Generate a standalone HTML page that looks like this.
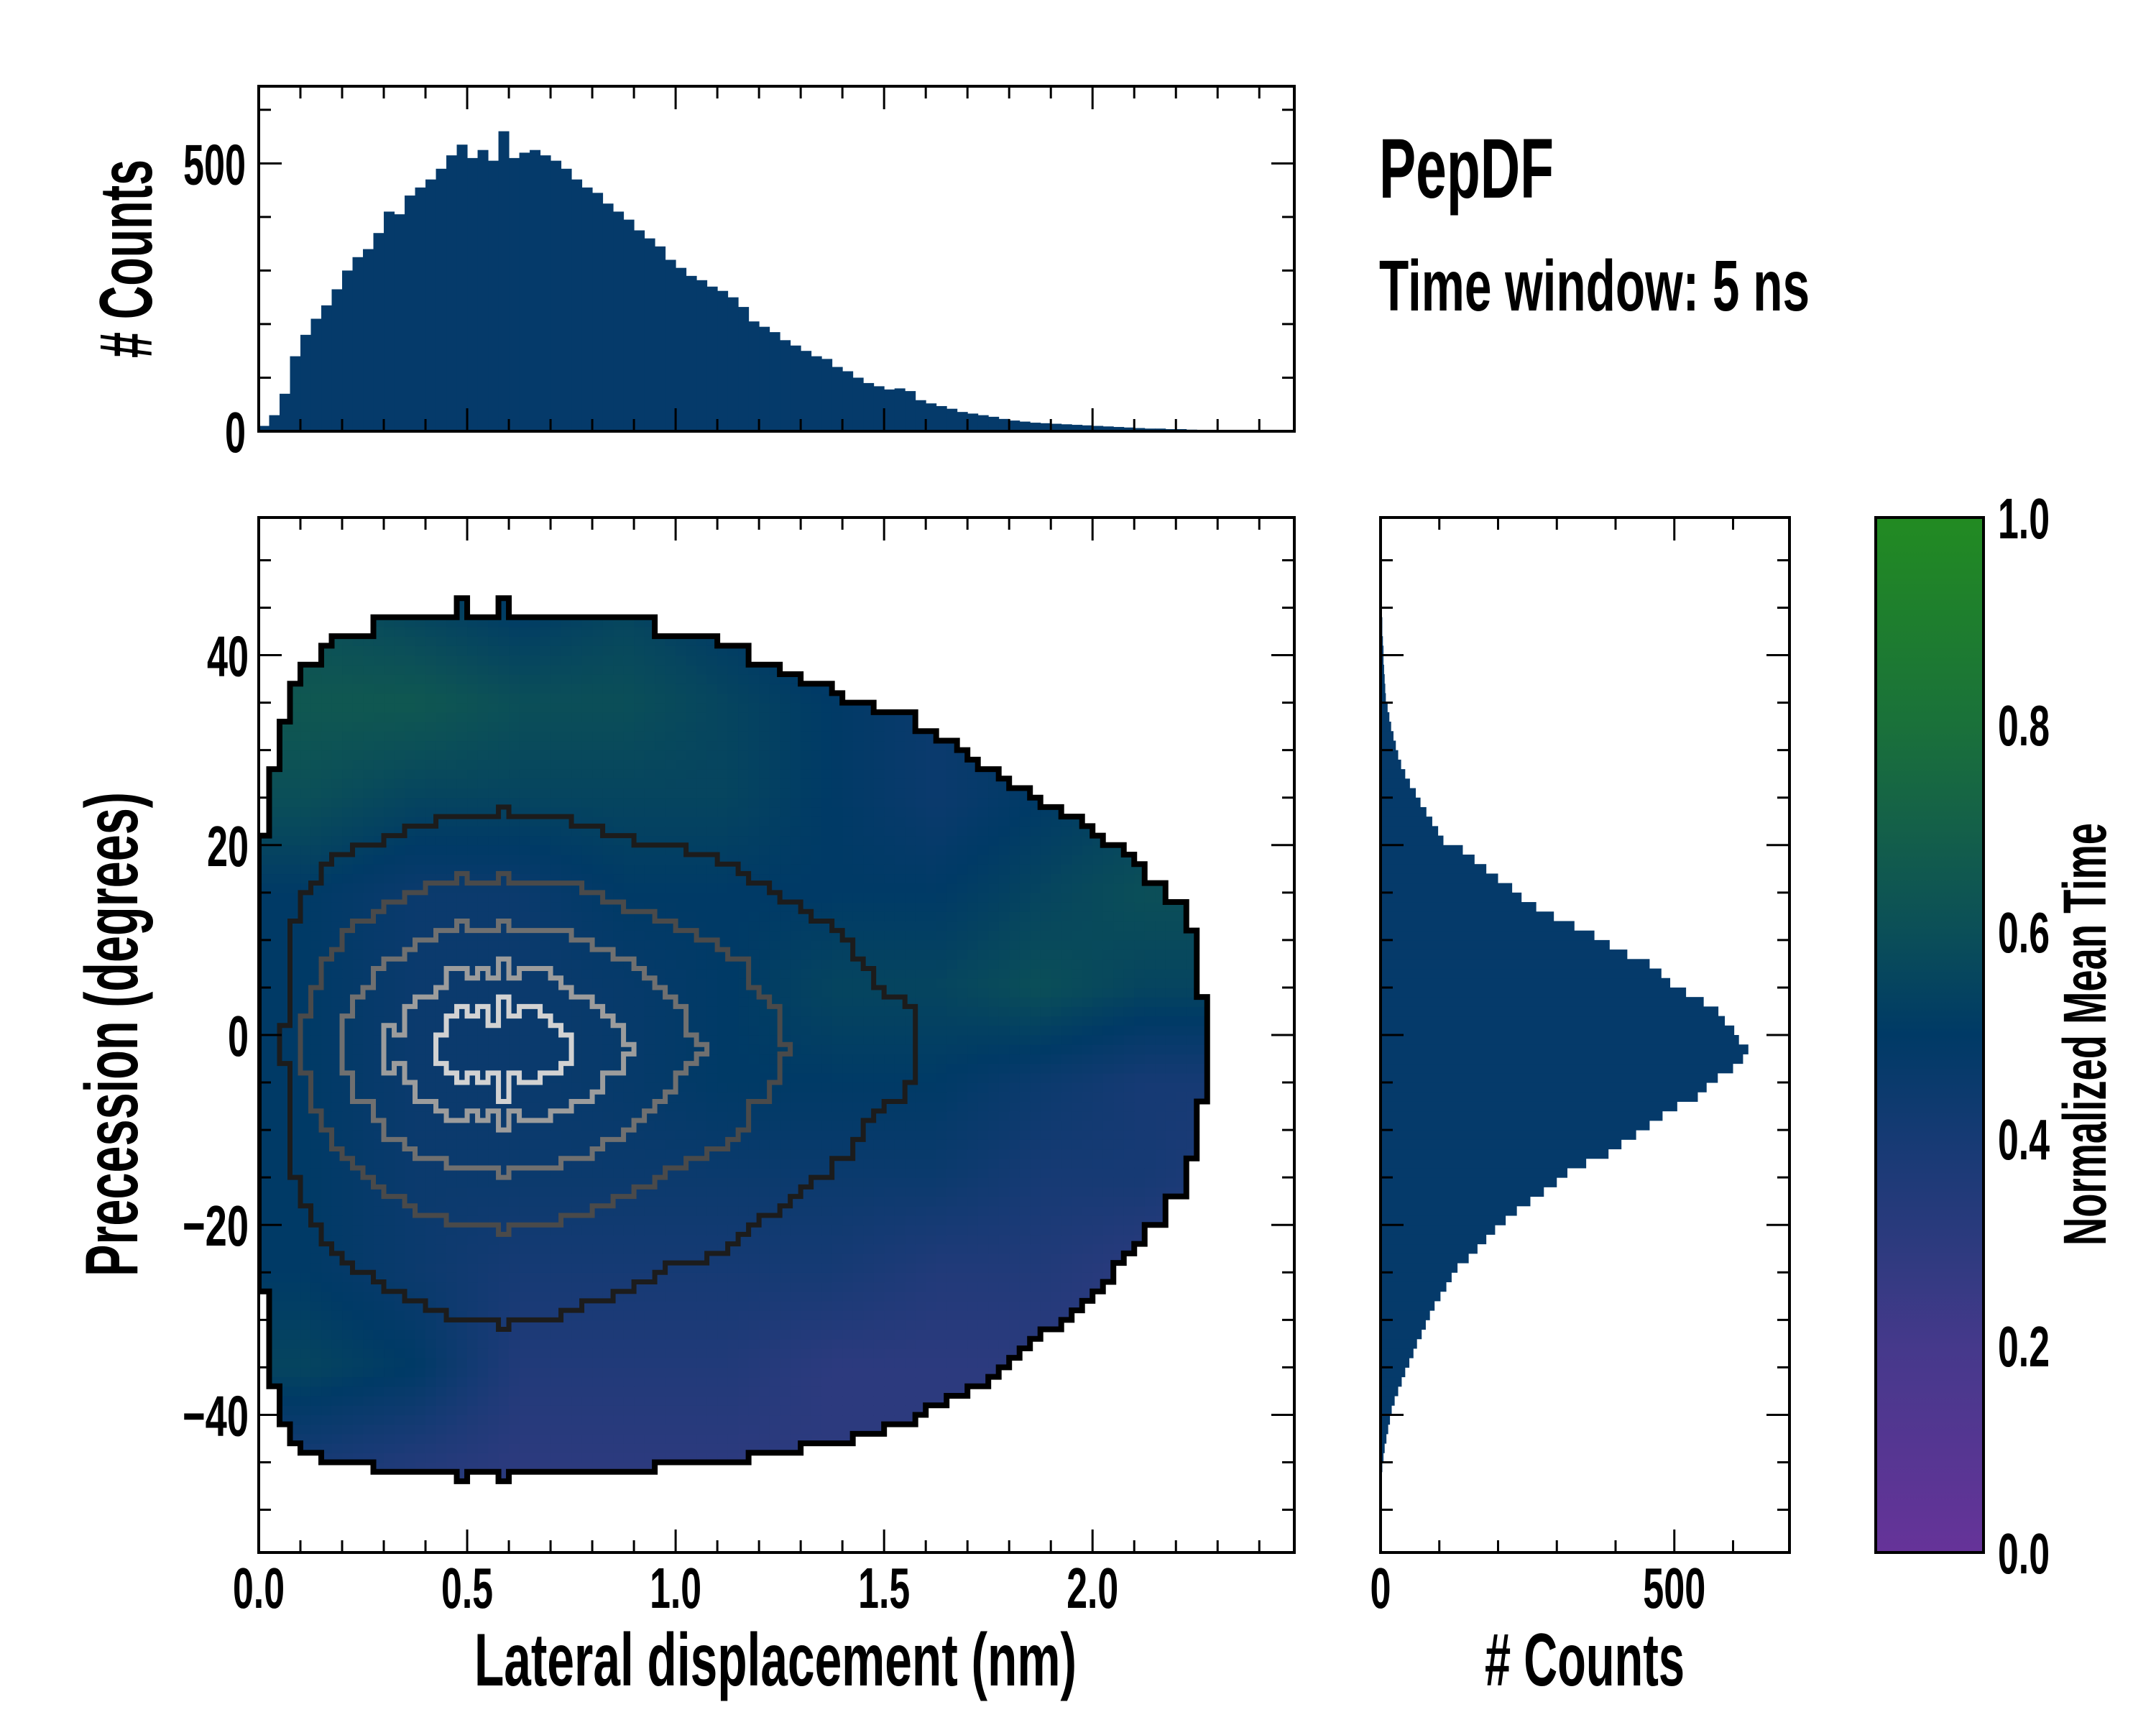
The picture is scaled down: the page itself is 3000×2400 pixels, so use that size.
<!DOCTYPE html>
<html><head><meta charset="utf-8"><style>
html,body{margin:0;padding:0;background:#fff;}
svg{display:block;}
text{font-family:"Liberation Sans Narrow","Liberation Sans",sans-serif;font-weight:bold;fill:#000;}
</style></head><body>
<svg id="fig" xmlns="http://www.w3.org/2000/svg" width="3000" height="2400" viewBox="0 0 3000 2400">
<rect width="3000" height="2400" fill="#fff"/>
<defs>
<clipPath id="mainClip"><rect x="360" y="720" width="1441" height="1440"/></clipPath>
<linearGradient id="cbGrad" x1="0" y1="1" x2="0" y2="0">
<stop offset="0" stop-color="#663399"/><stop offset="0.2" stop-color="#45398b"/><stop offset="0.3" stop-color="#2c3a7e"/><stop offset="0.4" stop-color="#163a74"/><stop offset="0.5" stop-color="#003a66"/><stop offset="0.6" stop-color="#0b4f58"/><stop offset="0.7" stop-color="#146049"/><stop offset="0.8" stop-color="#1a713a"/><stop offset="1" stop-color="#228b22"/>
</linearGradient>
</defs>
<g id="heat" clip-path="url(#mainClip)"></g>
<g id="contours" clip-path="url(#mainClip)"></g>
<g id="topBars"></g>
<g id="rightBars"></g>
<g id="axes"></g>
<rect x="2610" y="720" width="150" height="1440" fill="url(#cbGrad)" stroke="#000" stroke-width="4"/>
<g id="labels"></g>
<text x="1919" y="275" font-size="118" textLength="243" lengthAdjust="spacingAndGlyphs">PepDF</text>
<text x="1919" y="432" font-size="100" textLength="599" lengthAdjust="spacingAndGlyphs">Time window: 5 ns</text>
<text x="1079" y="2345" font-size="104" text-anchor="middle" textLength="838" lengthAdjust="spacingAndGlyphs">Lateral displacement (nm)</text>
<text x="2205" y="2345" font-size="104" text-anchor="middle" textLength="278" lengthAdjust="spacingAndGlyphs"># Counts</text>
<text transform="translate(191,1439) rotate(-90)" font-size="104" text-anchor="middle" textLength="674" lengthAdjust="spacingAndGlyphs">Precession (degrees)</text>
<text transform="translate(211,360) rotate(-90)" font-size="104" text-anchor="middle" textLength="276" lengthAdjust="spacingAndGlyphs"># Counts</text>
<text transform="translate(2930,1439) rotate(-90)" font-size="84" text-anchor="middle" textLength="588" lengthAdjust="spacingAndGlyphs">Normalized Mean Time</text>
</svg>
<script>
// ---- data ----
const lateralCounts = [10,30,70,140,180,210,235,265,300,325,340,370,410,405,440,455,470,490,515,535,510,525,505,560,510,520,525,515,505,490,470,455,445,425,410,395,375,360,345,320,305,290,282,270,262,250,232,205,195,185,170,160,150,140,135,120,112,100,90,84,78,80,75,58,52,47,42,36,33,30,27,23,20,18,16,15,14,13,12,11,10,9,8,7,6,5,5,4,4,3,2,1,0,0,0,0,0,0,0,0];
const precessionCounts = [0,0,1,2,3,5,7,10,13,16,19,24,30,36,42,49,56,62,70,77,84,92,102,112,121,131,150,165,180,195,213,232,255,278,300,318,350,388,410,435,458,480,505,540,555,574,600,617,626,610,602,586,575,550,520,493,478,458,420,390,364,330,295,265,240,224,200,180,160,140,107,98,88,78,68,60,50,42,35,30,26,22,18,15,12,9,8,7,6,5,5,4,3,3,2,2,1,0,0,0];
const meanTime = [
[0.6,0.55,0.5,0.55,0.5,0.45,0.4,0.5,0.5,0.5],
[0.65,0.65,0.6,0.6,0.55,0.5,0.45,0.5,0.55,0.5],
[0.6,0.55,0.55,0.55,0.55,0.5,0.45,0.5,0.55,0.5],
[0.5,0.45,0.45,0.5,0.5,0.5,0.5,0.55,0.6,0.6],
[0.5,0.45,0.45,0.47,0.5,0.55,0.55,0.6,0.55,0.55],
[0.5,0.45,0.45,0.47,0.5,0.5,0.5,0.45,0.4,0.4],
[0.5,0.45,0.45,0.45,0.45,0.45,0.45,0.4,0.4,0.35],
[0.5,0.45,0.4,0.4,0.4,0.4,0.35,0.35,0.3,0.3],
[0.55,0.5,0.35,0.35,0.35,0.3,0.3,0.3,0.3,0.3],
[0.4,0.35,0.3,0.3,0.3,0.3,0.3,0.3,0.3,0.3]];
const contourLevels = [0.003,0.12,0.3,0.5,0.7,0.85];
const xTicks = [0,0.5,1.0,1.5,2.0];
const xTickLabels = ["0.0","0.5","1.0","1.5","2.0"];
const yTicks = [-40,-20,0,20,40];
const yTickLabels = ["\u221240","\u221220","0","20","40"];
const countTicks = [0,500];
const countTickLabels = ["0","500"];
const cbTicks = [0,0.2,0.4,0.6,0.8,1.0];
const cbTickLabels = ["0.0","0.2","0.4","0.6","0.8","1.0"];

// ---- scales ----
const XMAX = 2.484, YMIN=-54.5, YMAX=54.5;
const ML=360, MR=1801, MT=720, MB=2160;
const sx = v => ML + v/XMAX*(MR-ML);
const sy = v => MB - (v-YMIN)/(YMAX-YMIN)*(MB-MT);
const TT=120, TB=600; const sTop = c => TB - c/644*(TB-TT);
const RL=1921, RR=2490; const sRight = c => RL + c/696*(RR-RL);
const sCb = v => 2160 - v*1440;
const NS="http://www.w3.org/2000/svg";
function mk(tag, attrs, parent){const e=document.createElementNS(NS,tag);for(const k in attrs)e.setAttribute(k,attrs[k]);parent.appendChild(e);return e;}

const stops=[[0,[102,51,153]],[0.2,[69,57,139]],[0.3,[44,58,126]],[0.4,[22,58,116]],[0.5,[0,58,102]],[0.6,[11,79,88]],[0.7,[20,96,73]],[0.8,[26,113,58]],[1,[34,139,34]]];
function cmap(v){v=Math.max(0,Math.min(1,v));for(let i=1;i<stops.length;i++){if(v<=stops[i][0]){const a=stops[i-1],b=stops[i];const t=(v-a[0])/(b[0]-a[0]);return 'rgb('+a[1].map((c,k)=>Math.round(c+(b[1][k]-c)*t)).join(',')+')';}}return 'rgb(34,139,34)';}
// bilinear sample of the block mean-time grid
function mtAt(x,deg){
  const fc=Math.max(0,Math.min(9,x/0.25-0.5)), fr=Math.max(0,Math.min(9,(50-deg)/10-0.5));
  const c0=Math.floor(fc),r0=Math.floor(fr),c1=Math.min(9,c0+1),r1=Math.min(9,r0+1),tc=fc-c0,tr=fr-r0;
  return (meanTime[r0][c0]*(1-tc)+meanTime[r0][c1]*tc)*(1-tr)+(meanTime[r1][c0]*(1-tc)+meanTime[r1][c1]*tc)*tr;
}

// ---- heatmap ----
const heat=document.getElementById('heat');
const maxX=Math.max(...lateralCounts), maxY=Math.max(...precessionCounts);
const NX=lateralCounts.length, NY=precessionCounts.length;
const lvl=[];
for(let i=0;i<NX;i++){lvl.push([]);for(let j=0;j<NY;j++){
  const s=(lateralCounts[i]/maxX)*(precessionCounts[j]/maxY);
  let L=0;contourLevels.forEach(t=>{if(s>=t)L++;});lvl[i].push(L);
  if(L>0){
    const x0=i*0.025, deg=-50+j;
    const cell=mk('rect',{x:sx(x0),y:sy(deg+1),width:sx(x0+0.025)-sx(x0)+0.6,height:sy(deg)-sy(deg+1)+0.6,fill:cmap(mtAt(x0+0.0125,deg+0.5))},heat);
    
    
  }
}}
// ---- contours (cell-edge boundaries) ----
const cont=document.getElementById('contours');
const lcol=['#000','#1c1c1c','#4a4a4a','#707070','#9c9c9c','#d2d2d2'];
const getL=(i,j)=>(i<0||j<0||i>=NX||j>=NY)?0:lvl[i][j];
let segs={};
for(let i=-1;i<NX;i++)for(let j=-1;j<NY;j++){
  const a=getL(i,j), b=getL(i+1,j), c=getL(i,j+1);
  if(a!==b){const k=Math.max(a,b);(segs[k]=segs[k]||[]).push(['M',sx((i+1)*0.025),sy(-50+j),'V',sy(-49+j)].join(' '));}
  if(a!==c){const k=Math.max(a,c);(segs[k]=segs[k]||[]).push(['M',sx(i*0.025),sy(-49+j),'H',sx((i+1)*0.025)].join(' '));}
}
Object.keys(segs).forEach(k=>{
  const p=mk('path',{d:segs[k].join(' '),stroke:lcol[k-1],'stroke-width':k==1?8:7,fill:'none','stroke-linecap':'square'},cont);
  
  
});

// ---- marginal histograms ----
const tb=document.getElementById('topBars');
lateralCounts.forEach((v,i)=>{if(v<=0)return;
  const b=mk('rect',{x:sx(i*0.025),y:sTop(v),width:sx(0.025)-sx(0)+0.5,height:TB-sTop(v),fill:'#053a6a'},tb);
  
  
});
const rb=document.getElementById('rightBars');
precessionCounts.forEach((v,j)=>{if(v<=0)return;const d=-50+j;
  const b=mk('rect',{x:RL,y:sy(d+1),width:sRight(v)-RL,height:sy(d)-sy(d+1)+0.5,fill:'#053a6a'},rb);
  
  
});

// ---- axes ----
const ax=document.getElementById('axes');
function frame(x0,y0,x1,y1,name){const r=mk('rect',{x:x0,y:y0,width:x1-x0,height:y1-y0,fill:'none',stroke:'#000','stroke-width':4},ax);}
function tick(x1,y1,x2,y2,w){mk('line',{x1,y1,x2,y2,stroke:'#000','stroke-width':w||3},ax);}
const MAJ=32, MIN=17;
frame(ML,MT,MR,MB,'main-axes-frame');
for(let v=0;v<=2.4001;v+=0.1){const X=sx(v);const maj=Math.abs(v*2-Math.round(v*2))<1e-6;const L=maj?MAJ:MIN;tick(X,MB,X,MB-L);tick(X,MT,X,MT+L);tick(X,TB,X,TB-L);tick(X,TT,X,TT+L);}
for(let v=-50;v<=50;v+=5){const Y=sy(v);const L=(v%20===0)?MAJ:MIN;tick(ML,Y,ML+L,Y);tick(MR,Y,MR-L,Y);tick(RL,Y,RL+L,Y);tick(RR,Y,RR-L,Y);}
frame(ML,TT,MR,TB,'top-hist-frame');
for(let v=0;v<=600;v+=100){const Y=sTop(v);const L=(v%500===0)?MAJ:MIN;tick(ML,Y,ML+L,Y);tick(MR,Y,MR-L,Y);}
frame(RL,MT,RR,MB,'right-hist-frame');
for(let v=0;v<=600;v+=100){const X=sRight(v);const L=(v%500===0)?MAJ:MIN;tick(X,MB,X,MB-L);tick(X,MT,X,MT+L);}
for(let v=0;v<=1.0001;v+=0.05){const Y=sCb(v);const maj=Math.abs(v*5-Math.round(v*5))<1e-6;if(v<0.01||v>0.99)continue;tick(2760,Y,2760-(maj?32:16),Y);}

// ---- labels ----
const lb=document.getElementById('labels');
function tw(s){let w=0;for(const ch of s){w+= ch==='.'?14:(ch==='\u2212'?34:29);}return w;}
function lab(x,y,s,anchor,name){const t=mk('text',{x,y,'font-size':80,'text-anchor':anchor,textLength:tw(s),lengthAdjust:'spacingAndGlyphs'},lb);t.textContent=s;}
xTicks.forEach((v,i)=>lab(sx(v),2237,xTickLabels[i],'middle','x-tick-label'));
yTicks.forEach((v,i)=>lab(346,sy(v)+29,yTickLabels[i],'end','y-tick-label'));
countTicks.forEach((v,i)=>lab(sRight(v),2237,countTickLabels[i],'middle','right-hist-tick-label'));
countTicks.forEach((v,i)=>lab(342,sTop(v)+29,countTickLabels[i],'end','top-hist-tick-label'));
cbTicks.forEach((v,i)=>lab(2780,sCb(v)+29,cbTickLabels[i],'start','colorbar-tick-label'));
</script>
</body></html>
